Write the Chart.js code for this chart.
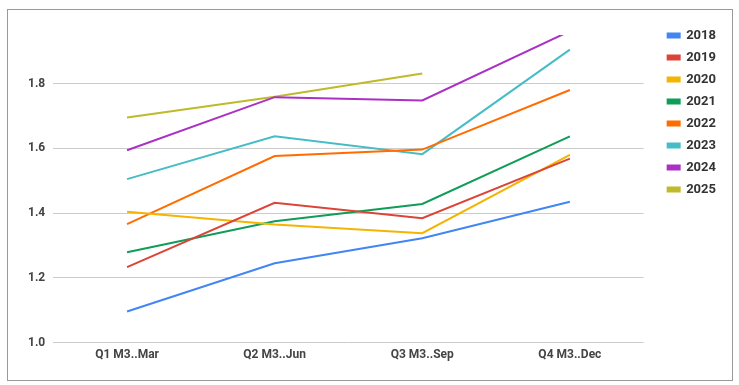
<!DOCTYPE html>
<html>
<head>
<meta charset="UTF-8" />
<title>Quarterly values by year</title>
<script src="https://cdn.jsdelivr.net/npm/chart.js"></script>
<style>
  html, body { margin: 0; padding: 0; background: #fff; }
  #wrap { position: relative; width: 739px; height: 385px; }
  #frame { position: absolute; left: 7px; top: 9px; width: 724px; height: 370px; border: 1px solid #9a9a9a; pointer-events: none; }
</style>
</head>
<body>
<div id="wrap">
  <canvas id="chart" width="739" height="385"></canvas>
  <div id="frame"></div>
</div>
<script>
  const quarters = ['Q1 M3..Mar', 'Q2 M3..Jun', 'Q3 M3..Sep', 'Q4 M3..Dec'];
  const years = ['2018', '2019', '2020', '2021', '2022', '2023', '2024', '2025'];
  const colors = ['#4285F4', '#DB4437', '#F4B400', '#0F9D58', '#FF6D01', '#46BDC6', '#AB30C4', '#C0BA2B'];

  const v2018 = [1.096, 1.245, 1.322, 1.435];
  const v2019 = [1.233, 1.432, 1.384, 1.568];
  const v2020 = [1.404, 1.365, 1.338, 1.580];
  const v2021 = [1.279, 1.375, 1.428, 1.637];
  const v2022 = [1.366, 1.576, 1.596, 1.780];
  const v2023 = [1.505, 1.637, 1.582, 1.905];
  const v2024 = [1.594, 1.758, 1.748, 1.962];
  const v2025 = [1.695, 1.759, 1.831, null];
  const series = [v2018, v2019, v2020, v2021, v2022, v2023, v2024, v2025];

  const yTicks = [1.0, 1.2, 1.4, 1.6, 1.8];

  // nudge the legend block so it sits like the original (further right, higher up)
  const legendShift = {
    id: 'legendShift',
    afterLayout(chart) {
      const lg = chart.legend;
      lg.left += 15; lg.right += 15;
      lg.top -= 15; lg.bottom -= 15;
    }
  };

  const ctx = document.getElementById('chart').getContext('2d');
  new Chart(ctx, {
    type: 'line',
    data: {
      labels: quarters,
      datasets: years.map((y, i) => ({
        label: y,
        data: series[i],
        borderColor: colors[i],
        backgroundColor: colors[i],
        borderWidth: 2,
        pointRadius: 0,
        tension: 0,
        fill: false
      }))
    },
    options: {
      responsive: false,
      animation: false,
      layout: { padding: { left: 20, right: 28, top: 35, bottom: 18 } },
      plugins: {
        tooltip: { enabled: false },
        legend: {
          position: 'right',
          align: 'start',
          labels: {
            boxWidth: 12,
            boxHeight: 4,
            padding: 9,
            color: '#333',
            font: { family: 'Roboto', size: 13, weight: 'bold' }
          }
        }
      },
      scales: {
        x: {
          offset: true,
          grid: { display: false, drawTicks: false },
          border: { display: false },
          ticks: { color: '#444', padding: 5, font: { family: 'Roboto', size: 12, weight: 'bold' } }
        },
        y: {
          min: 1.0,
          max: 1.95,
          afterBuildTicks: (axis) => { axis.ticks = yTicks.map(v => ({ value: v })); },
          grid: { color: '#cccccc', drawTicks: false },
          border: { display: false },
          ticks: {
            color: '#444',
            padding: 8,
            font: { family: 'Roboto', size: 12, weight: 'bold' },
            callback: (v) => v.toFixed(1)
          }
        }
      }
    },
    plugins: [legendShift]
  });
</script>
</body>
</html>
